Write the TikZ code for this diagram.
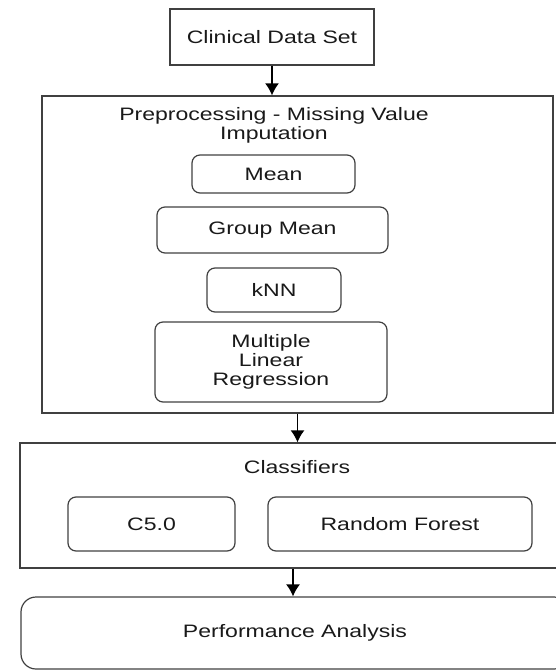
\documentclass[tikz,border=0pt]{standalone}
\usepackage{fontspec}
\setmainfont{Liberation Sans}[FakeStretch=1.28]
\usepackage{tikz}
\usetikzlibrary{arrows.meta}
\usetikzlibrary{positioning}
\usetikzlibrary{calc}

\begin{document}
\begin{tikzpicture}[x=1pt, y=-1pt,
        every node/.style={font=\fontsize{18}{19}\selectfont, text=black!90},
        frame/.style={draw=black!75, line width=1.3pt, inner sep=0pt},
        box/.style={draw=black!75, line width=1.2pt, rounded corners=8pt, inner sep=0pt, align=center},
        arr/.style={draw=black, line width=1.4pt, -{Latex[length=12pt, width=14pt]}}]
        \useasboundingbox (0,0) rectangle (555,671);

        % Input data
        \node[frame, minimum width=204pt, minimum height=56pt] (data) at (272,37) {Clinical Data Set};

        % Preprocessing block
        \node[frame, minimum width=511pt, minimum height=317pt] (prep) at (297.5,254.5) {};
        \node[align=center] (preptitle) at (274,125) {Preprocessing - Missing Value\\Imputation};
        \node[box, minimum width=163pt, minimum height=38pt] (mean) at (273.5,174) {Mean};
        \node[box, minimum width=231pt, minimum height=46pt] (gmean) at (272.5,230) {Group Mean};
        \node[box, minimum width=134pt, minimum height=44pt] (knn) at (274,290) {kNN};
        \node[box, minimum width=232pt, minimum height=80pt] (mlr) at (271,362) {Multiple\\Linear\\Regression};

        % Classifier block
        \node[frame, minimum width=554pt, minimum height=125pt] (clf) at (297,505.5) {};
        \node (clftitle) at (297,467) {Classifiers};
        \node[box, minimum width=167pt, minimum height=54pt] (c50) at (151.5,524) {C5.0};
        \node[box, minimum width=264pt, minimum height=54pt] (rf) at (400,524) {Random Forest};

        % Evaluation
        \node[box, rounded corners=15pt, minimum width=548pt, minimum height=72pt] (perf) at (295,633) {Performance Analysis};

        % Arrows
        \coordinate (clfout) at ($(clf.south)+(-4,0)$);
        \draw[arr] (data.south) -- (data.south |- prep.north);
        \draw[arr] (prep.south) -- (prep.south |- clf.north);
        \draw[arr] (clfout) -- (clfout |- perf.north);
\end{tikzpicture}
\end{document}
